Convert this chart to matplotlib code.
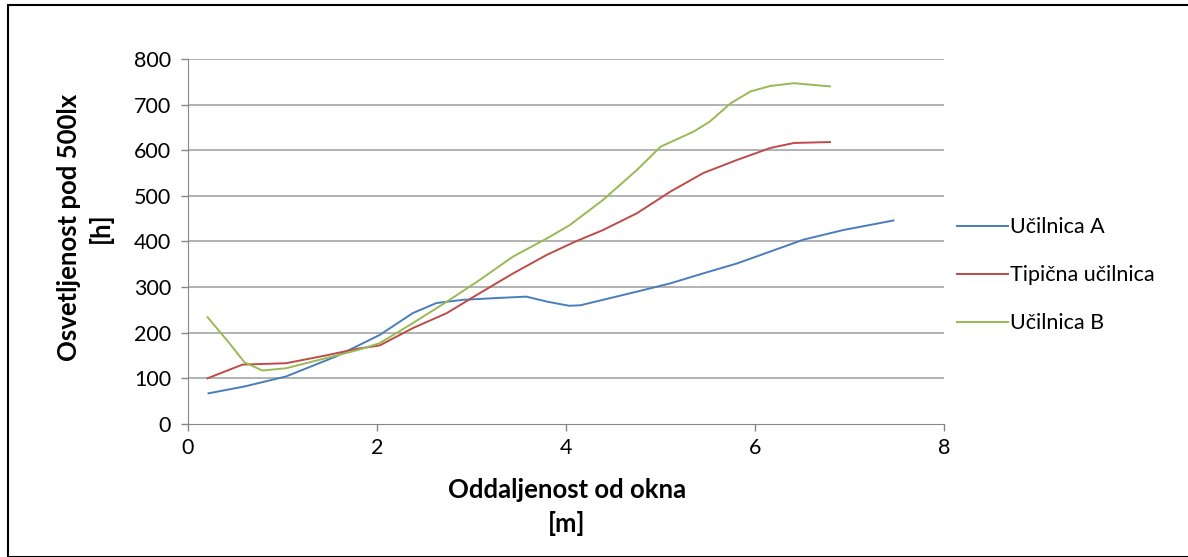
import matplotlib
matplotlib.use("Agg")
import matplotlib.pyplot as plt
from matplotlib.patches import Rectangle

# ***** DATA *****
x_a = [0.22, 0.6, 1.04, 1.57, 2.03, 2.38, 2.63, 2.91, 3.27, 3.58, 3.8, 4.03, 4.15,
       4.39, 4.75, 5.1, 5.45, 5.81, 6.16, 6.51, 6.93, 7.46]
y_a = [67, 82, 104, 148, 195, 243, 265, 272, 276, 279, 268, 259, 260,
       272, 290, 308, 330, 352, 378, 404, 425, 446]

x_tip = [0.21, 0.58, 1.04, 1.46, 1.8, 2.03, 2.38, 2.74, 3.09, 3.44, 3.8, 4.1,
         4.39, 4.75, 5.1, 5.45, 5.81, 6.16, 6.41, 6.79]
y_tip = [100, 130, 133, 150, 165, 172, 210, 243, 287, 330, 371, 400,
         425, 462, 509, 550, 579, 605, 616, 618]

x_b = [0.21, 0.44, 0.6, 0.79, 1.04, 1.46, 1.8, 2.03, 2.38, 2.74, 3.09, 3.44, 3.8,
       4.04, 4.39, 4.75, 5.0, 5.35, 5.52, 5.74, 5.95, 6.16, 6.41, 6.79]
y_b = [234, 177, 135, 117, 122, 144, 162, 177, 221, 268, 316, 367, 407,
       436, 491, 557, 608, 641, 663, 703, 729, 741, 747, 740]

labels = ["Učilnica A", "Tipična učilnica", "Učilnica B"]
colors = ["#4A7EBB", "#BE4B48", "#98B954"]

x_ticks = [0, 2, 4, 6, 8]
y_ticks = [0, 100, 200, 300, 400, 500, 600, 700, 800]

# ***** GRAPHING *****
plt.rcParams['font.family'] = ['Lato', 'DejaVu Sans']

fig = plt.figure(figsize=(11.88, 5.57), dpi=100)
ax = fig.add_axes([0.158, 0.239, 0.637, 0.655])

# Frame round the whole picture
fig.patches.append(Rectangle((0.007, 0.0), 1.2, 0.991, transform=fig.transFigure,
                             fill=False, edgecolor='black', linewidth=1.5))

ax.plot(x_a, y_a, color=colors[0], linewidth=1.4, label=labels[0])
ax.plot(x_tip, y_tip, color=colors[1], linewidth=1.4, label=labels[1])
ax.plot(x_b, y_b, color=colors[2], linewidth=1.4, label=labels[2])

ax.set_xlim(0, 8)
ax.set_ylim(0, 800)
ax.set_xticks(x_ticks)
ax.set_yticks(y_ticks)
ax.tick_params(axis='both', labelsize=15.5, color='#868686', length=5, width=1)
ax.tick_params(axis='x', pad=5)
ax.tick_params(axis='y', pad=7)

for v in y_ticks[1:]:
    ax.axhline(v, color='#A6A6A6', linewidth=1.2, zorder=0)

for side in ['top', 'right']:
    ax.spines[side].set_visible(False)
for side in ['left', 'bottom']:
    ax.spines[side].set_color('#868686')

# Axis titles
fig.text(567 / 1188, 0.09, 'Oddaljenost od okna\n[m]', fontsize=18.5, fontweight='bold',
         ha='center', va='center', linespacing=1.45)
fig.text(85 / 1188, 0.591, 'Osvetljenost pod 500lx\n[h]', fontsize=18.5, fontweight='bold',
         ha='center', va='center', rotation=90, linespacing=1.3)

leg = fig.legend(loc='center left', bbox_to_anchor=(0.8056, 0.506), frameon=False,
                 fontsize=15.5, handlelength=2.35, handletextpad=0.1, labelspacing=1.3,
                 borderpad=0, borderaxespad=0)

fig.savefig('out.png', dpi=100)
